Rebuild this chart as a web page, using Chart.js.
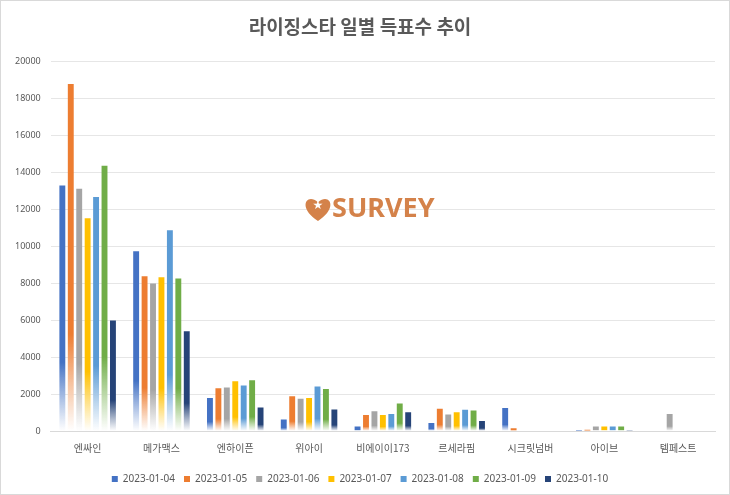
<!DOCTYPE html>
<html><head><meta charset="utf-8">
<script src="https://cdn.jsdelivr.net/npm/chart.js@4/dist/chart.umd.min.js"></script>
<style>
html,body{margin:0;padding:0;background:#fff;}
#wrap{position:relative;width:728px;height:493px;border:1px solid #d9d9d9;}
</style></head>
<body><div id="wrap"><canvas id="c"></canvas></div>
<script>
const categories = ['엔싸인','메가맥스','엔하이픈','위아이','비에이이173','르세라핌','시크릿넘버','아이브','템페스트'];
const dates = ['2023-01-04','2023-01-05','2023-01-06','2023-01-07','2023-01-08','2023-01-09','2023-01-10'];
const colors = ['#4472C4','#ED7D31','#A5A5A5','#FFC000','#5B9BD5','#70AD47','#264478'];
const d0104 = [13300, 9740, 1790, 620, 250, 440, 1250, 50, 0];
const d0105 = [18800, 8380, 2320, 1880, 870, 1210, 150, 70, 0];
const d0106 = [13120, 7990, 2360, 1750, 1070, 900, 0, 250, 920];
const d0107 = [11530, 8330, 2700, 1790, 870, 1010, 30, 250, 0];
const d0108 = [12680, 10880, 2470, 2410, 920, 1150, 30, 250, 0];
const d0109 = [14370, 8260, 2750, 2270, 1490, 1110, 0, 250, 0];
const d0110 = [5980, 5400, 1270, 1160, 1010, 540, 30, 40, 0];
const series = [d0104,d0105,d0106,d0107,d0108,d0109,d0110];

function grad(ctx, color){
  const chart = ctx.chart;
  if (!chart.chartArea || ctx.type !== 'data') return color;
  const v = ctx.parsed ? ctx.parsed.y : 0;
  const ys = chart.scales.y;
  const top = ys.getPixelForValue(v), base = ys.getPixelForValue(0);
  if (!(base - top > 1)) return color;
  const g = chart.ctx.createLinearGradient(0, top, 0, base);
  g.addColorStop(0, color);
  g.addColorStop(0.72, color);
  g.addColorStop(1, 'rgba(255,255,255,0.9)');
  return g;
}

const watermark = {
  id:'wm',
  afterDatasetsDraw(chart){
    const c = chart.ctx;
    c.save();
    c.fillStyle = '#D4824A';
    const hx = 317, hy = 207, s = 13;
    c.beginPath();
    c.moveTo(hx, hy + s);
    c.bezierCurveTo(hx - s*1.6, hy, hx - s*0.9, hy - s*1.2, hx, hy - s*0.45);
    c.bezierCurveTo(hx + s*0.9, hy - s*1.2, hx + s*1.6, hy, hx, hy + s);
    c.fill();
    c.fillStyle = '#fff';
    c.font = 'bold 12px "DejaVu Sans"';
    c.textAlign = 'center'; c.textBaseline = 'middle';
    c.fillText('★', hx, hy - 2);
    c.fillStyle = '#D4824A';
    c.font = 'bold 27px "Noto Sans", "DejaVu Sans"';
    c.textAlign = 'left';
    c.fillText('SURVEY', 331, 208);
    c.restore();
  }
};

new Chart(document.getElementById('c'), {
  type:'bar',
  data:{
    labels: categories,
    datasets: series.map((d,i)=>({
      label: dates[i],
      data: d,
      backgroundColor: (ctx)=>grad(ctx, colors[i]),
      borderWidth:0,
      barPercentage:0.7,
      categoryPercentage:0.8
    }))
  },
  options:{
    responsive:true, maintainAspectRatio:false, animation:false,
    layout:{padding:{left:4,right:14,top:8,bottom:0}},
    plugins:{
      title:{display:true,text:'라이징스타 일별 득표수 추이',color:'#595959',
        font:{family:'"Noto Sans CJK KR"',size:19,weight:'bold'},padding:{top:6,bottom:24}},
      legend:{position:'bottom',labels:{boxWidth:6,boxHeight:6,color:'#595959',padding:9,
        font:{family:'"Noto Sans","Noto Sans CJK KR"',size:10},
        generateLabels:(chart)=>dates.map((d,i)=>({text:d,fillStyle:colors[i],strokeStyle:colors[i],lineWidth:0,fontColor:'#595959',datasetIndex:i,hidden:false}))}},
      tooltip:{enabled:false}
    },
    scales:{
      x:{grid:{display:false,drawTicks:false},border:{color:'#d9d9d9'},
        ticks:{color:'#595959',padding:11,font:{family:'"Noto Sans CJK KR"',size:10}}},
      y:{min:0,max:20000,grid:{color:'#e6e6e6',drawTicks:false},border:{display:false},
        ticks:{stepSize:2000,color:'#595959',padding:10,font:{family:'"Noto Sans"',size:9},
          callback:(v)=>String(v)}}
    }
  },
  plugins:[watermark]
});
</script></body></html>
